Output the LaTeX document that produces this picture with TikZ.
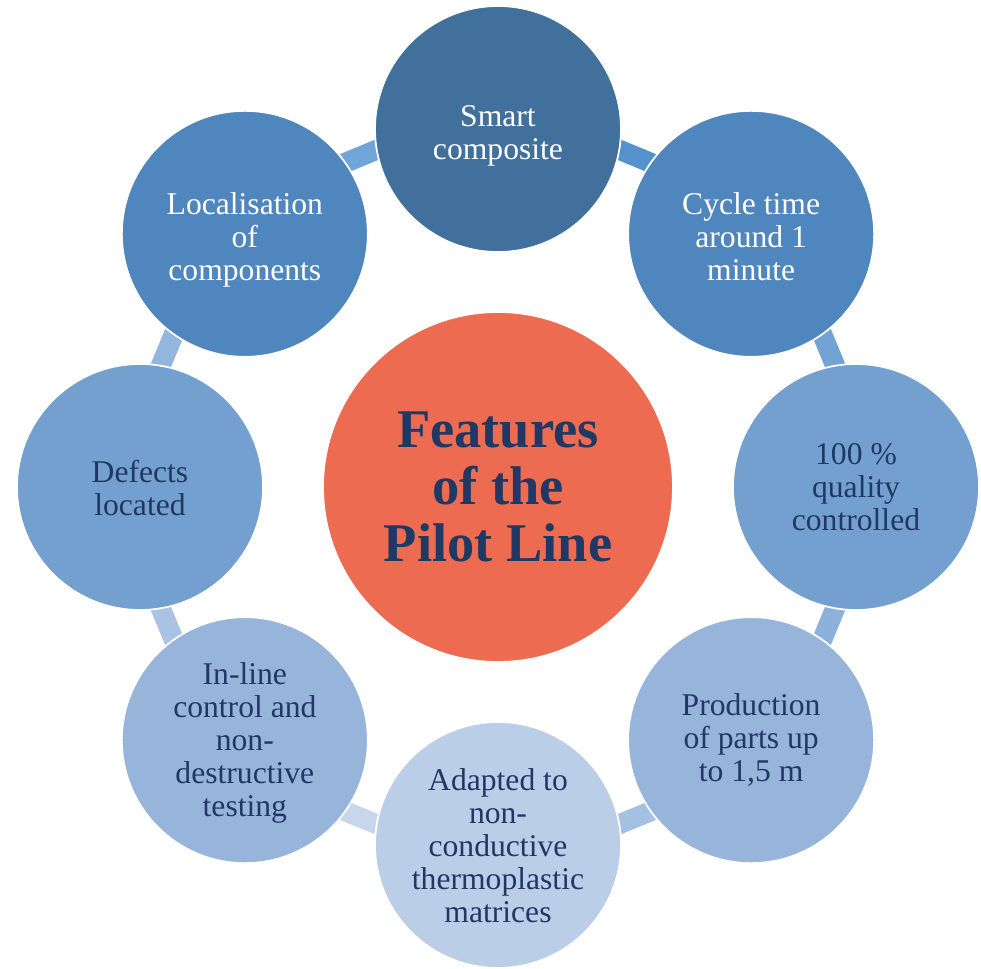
\documentclass[tikz,border=0pt]{standalone}
\usepackage{fontspec}
\setmainfont{Liberation Serif}
\usetikzlibrary{calc}
\definecolor{navy}{RGB}{31,56,100}
\definecolor{hubred}{RGB}{237,107,80}
\definecolor{blueA}{RGB}{65,112,157}
\definecolor{blueB}{RGB}{80,134,190}
\definecolor{blueC}{RGB}{115,160,207}
\definecolor{blueD}{RGB}{151,181,218}
\definecolor{blueE}{RGB}{187,206,232}
\begin{document}
\begin{tikzpicture}[line join=round, line cap=round,
		feat/.style={circle, draw=white, line width=1pt, minimum size=4.92cm, inner sep=0pt},
		feattext/.style={align=center, inner sep=0pt, font=\fontsize{18}{18.8}\selectfont},
		hub/.style={circle, draw=white, line width=1pt, fill=hubred, text=navy, minimum size=7cm, inner sep=0pt, align=center, font=\bfseries\fontsize{31}{32.6}\selectfont},
		link/.style={line width=0.4cm, line cap=butt}]
				\useasboundingbox (-9.96,-9.62) rectangle (9.66,9.74);
				% links on the ring, under the circles
				\foreach \a/\r/\g/\b [count=\i] in {67.5/84/146/205, 22.5/114/163/213, -22.5/140/178/220, -67.5/165/193/226, -112.5/200/214/235, -157.5/170/195/228, 157.5/148/182/222, 112.5/114/165/215}
				{\definecolor{lk}{RGB}{\r,\g,\b}
				\coordinate (p\i) at ($(\a:7.16)+(\a+90:0.4)$);
				\coordinate (q\i) at ($(\a:7.16)+(\a-90:0.4)$);
				\draw[link, lk] (p\i)--(q\i);}
				\foreach \a/\f/\t/\y/\s [count=\i] in {90/blueA/white/-0.13/{Smart\\composite}, 45/blueB/white/-0.05/{Cycle time\\around 1\\minute}, 0/blueC/navy/0/{100 \%\\quality\\controlled}, -45/blueD/navy/0/{Production\\of parts up\\to 1,5 m}, -90/blueE/navy/-0.01/{Adapted to\\non-\\conductive\\thermoplastic\\matrices}, -135/blueD/navy/-0.05/{In-line\\control and\\non-\\destructive\\testing}, 180/blueC/navy/-0.02/{Defects\\located}, 135/blueB/white/-0.12/{Localisation\\of\\components}}
				{\node[feat, fill=\f] (f\i) at (\a:7.16) {};
				\node[feattext, text=\t] (t\i) at ([yshift=\y cm]f\i.center) {\s};}
				\node[hub] (hub) at (0,0) {Features\\of the\\Pilot Line};
		\end{tikzpicture}
\end{document}
